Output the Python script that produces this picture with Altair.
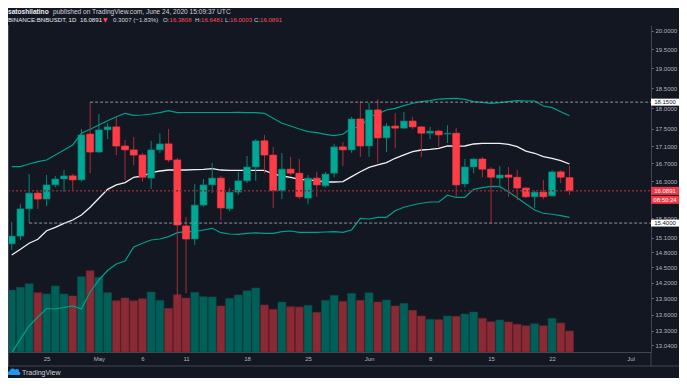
import altair as alt
import pandas as pd

# ---------------- data ----------------
dates = pd.date_range("2020-04-21", periods=65, freq="D").strftime("%Y-%m-%d").tolist()

opens = [14.97, 15.13, 15.70, 16.04, 15.91, 16.22, 16.35, 16.42, 16.33, 17.38,
         16.96, 17.48, 17.55, 17.10, 17.01, 16.89, 16.37, 17.01, 17.15, 16.78,
         15.34, 15.07, 15.78, 16.22, 16.37, 15.70, 16.06, 16.31, 16.62, 17.22,
         16.89, 16.09, 16.57, 16.48, 15.93, 16.37, 16.20, 16.48, 17.08, 17.01,
         17.74, 17.10, 17.96, 17.29, 17.57, 17.52, 17.69, 17.55, 17.40, 17.45,
         17.38, 17.40, 16.24, 16.62, 16.80, 16.57, 16.37, 16.44, 16.39, 16.15,
         15.96, 16.06, 15.98, 16.51, 16.3808]
highs = [15.42, 15.80, 16.46, 16.09, 16.44, 16.42, 16.55, 16.46, 17.50, 18.15,
         17.86, 17.64, 17.79, 17.24, 17.31, 16.94, 17.22, 17.40, 17.50, 16.82,
         15.53, 16.24, 16.35, 16.71, 16.42, 16.15, 16.51, 16.87, 17.26, 17.36,
         17.08, 16.94, 16.85, 16.80, 16.44, 16.51, 16.51, 17.15, 17.19, 17.79,
         18.18, 18.13, 18.22, 17.64, 17.88, 17.91, 17.79, 17.57, 17.55, 17.48,
         17.59, 17.52, 16.80, 16.82, 16.85, 16.62, 16.64, 16.62, 16.55, 16.17,
         16.09, 16.33, 16.55, 16.55, 16.6481]
lows = [14.85, 15.05, 15.40, 15.70, 15.76, 16.17, 16.06, 16.11, 16.29, 16.48,
        16.94, 17.26, 16.89, 16.33, 16.66, 16.29, 16.13, 16.94, 16.73, 13.91,
        14.00, 14.95, 15.74, 16.04, 15.46, 15.65, 16.00, 16.26, 16.31, 16.48,
        15.72, 15.91, 16.44, 15.91, 15.80, 15.96, 16.17, 16.39, 16.64, 16.94,
        16.85, 16.85, 16.71, 16.96, 17.05, 17.50, 17.50, 16.85, 17.26, 17.08,
        17.17, 15.96, 16.17, 16.48, 16.39, 15.40, 16.17, 15.96, 15.89, 15.93,
        15.72, 15.91, 15.96, 16.26, 16.0003]
closes = [15.13, 15.70, 16.04, 15.91, 16.22, 16.35, 16.42, 16.33, 17.36, 16.96,
          17.48, 17.55, 17.10, 17.01, 16.89, 16.39, 17.01, 17.15, 16.78, 15.36,
          15.07, 15.78, 16.22, 16.37, 15.72, 16.06, 16.31, 16.62, 17.22, 16.89,
          16.09, 16.57, 16.48, 15.96, 16.37, 16.22, 16.46, 17.08, 17.01, 17.74,
          17.10, 17.96, 17.29, 17.57, 17.52, 17.69, 17.55, 17.40, 17.45, 17.36,
          17.40, 16.22, 16.62, 16.80, 16.57, 16.39, 16.44, 16.39, 16.15, 15.96,
          16.06, 15.96, 16.51, 16.39, 16.0891]
volumes = [620, 647, 683, 593, 580, 660, 580, 560, 753, 813,
           747, 593, 513, 540, 513, 533, 600, 517, 437, 573,
           540, 597, 553, 550, 460, 537, 570, 613, 640, 470,
           427, 500, 453, 450, 467, 397, 517, 567, 507, 587,
           517, 593, 500, 520, 460, 487, 417, 360, 327, 323,
           360, 357, 380, 400, 337, 303, 320, 300, 277, 263,
           283, 263, 337, 290, 210]
bb_upper = [16.626, 16.626, 16.687, 16.739, 16.778, 16.893, 17.007, 17.124, 17.398, 17.493,
            17.595, 17.698, 17.795, 17.877, 17.829, 17.836, 17.860, 17.892, 17.940, 17.892,
            17.897, 17.897, 17.897, 17.897, 17.897, 17.897, 17.901, 17.892, 17.892, 17.877,
            17.756, 17.636, 17.571, 17.500, 17.436, 17.412, 17.374, 17.341, 17.374, 17.531,
            17.541, 17.795, 17.860, 17.957, 17.999, 18.063, 18.122, 18.161, 18.186, 18.227,
            18.239, 18.244, 18.220, 18.161, 18.146, 18.122, 18.137, 18.161, 18.186, 18.178,
            18.178, 18.056, 18.014, 17.916, 17.819]
bb_mid = [14.746, 14.861, 14.983, 15.064, 15.241, 15.312, 15.395, 15.464, 15.570, 15.734,
          15.927, 16.123, 16.218, 16.269, 16.388, 16.417, 16.491, 16.529, 16.551, 16.551,
          16.551, 16.558, 16.567, 16.581, 16.551, 16.545, 16.545, 16.545, 16.545, 16.545,
          16.462, 16.417, 16.388, 16.344, 16.328, 16.313, 16.284, 16.284, 16.291, 16.402,
          16.513, 16.612, 16.665, 16.717, 16.817, 16.893, 16.968, 17.007, 17.024, 17.047,
          17.105, 17.096, 17.100, 17.147, 17.163, 17.163, 17.163, 17.140, 17.084, 16.984,
          16.932, 16.854, 16.817, 16.762, 16.687]
bb_lower = [12.908, 13.154, 13.390, 13.555, 13.712, 13.703, 13.731, 13.759, 13.703, 14.023,
            14.254, 14.439, 14.567, 14.626, 14.908, 14.983, 15.050, 15.070, 15.118, 15.200,
            15.221, 15.221, 15.256, 15.291, 15.200, 15.173, 15.167, 15.187, 15.194, 15.187,
            15.187, 15.221, 15.235, 15.208, 15.208, 15.208, 15.214, 15.221, 15.208, 15.256,
            15.500, 15.485, 15.521, 15.521, 15.661, 15.734, 15.783, 15.820, 15.847, 15.847,
            15.993, 15.945, 15.949, 16.123, 16.158, 16.189, 16.180, 16.071, 15.940, 15.805,
            15.676, 15.606, 15.585, 15.555, 15.521]

price_ticks = [20.0, 19.5, 19.0, 18.5, 18.0, 17.5, 17.1, 16.7, 16.3, 15.5,
               15.1, 14.8, 14.5, 14.2, 13.9, 13.6, 13.3, 13.04]
date_ticks = [(4, 25), (5, 1), (5, 6), (5, 11), (5, 18), (5, 25), (6, 1),
              (6, 8), (6, 15), (6, 22), (7, 1)]
level_prices = [18.15, 15.40]
level_starts = ["2020-04-30", "2020-04-23"]
last_price = 16.0891
countdown = "08:50:24"

df = pd.DataFrame({"date": dates, "open": opens, "high": highs, "low": lows,
                   "close": closes, "volume": volumes, "bb_upper": bb_upper,
                   "bb_mid": bb_mid, "bb_lower": bb_lower})
levels = pd.DataFrame({"price": level_prices, "start": level_starts,
                       "label": [f"{p:.4f}" for p in level_prices]})
last_df = pd.DataFrame({"price": [last_price], "label": [f"{last_price:.4f}"],
                        "cd": [countdown]})

# ---------------- style ----------------
BG = "#131722"
UP, DOWN = "#00a896", "#fe3d47"
UP_W, DOWN_W = "#0a8577", "#a82e38"
VUP, VDN = "#005f58", "#8a2a34"
BAND = "#00a08c"
TXT = "#b2b5be"
FRAME = "#434651"
FONT = "Liberation Sans"
W, H = 643, 327

x_scale = alt.Scale(type="utc", domain=[
    alt.DateTime(year=2020, month=4, date=21, hours=3, minutes=32, utc=True),
    alt.DateTime(year=2020, month=7, date=2, hours=18, minutes=40, utc=True)])
x_axis = alt.Axis(values=[alt.DateTime(year=2020, month=m, date=d, utc=True) for m, d in date_ticks],
                  labelExpr="utcdate(datum.value) == 1 ? utcFormat(datum.value, '%b') : '' + utcdate(datum.value)",
                  title=None, grid=False, ticks=False, labelPadding=3, labelFontSize=6,
                  labelColor=TXT, labelFont=FONT, domainColor=FRAME, labelOverlap=False,
                  labelFlush=False)
y_scale = alt.Scale(type="log", domain=[12.925, 20.156], nice=False)
y_axis = alt.Axis(orient="right", values=price_ticks, format=".4f", title=None, grid=False,
                  tickSize=2, tickColor="#787b86", domainColor=FRAME, labelPadding=2,
                  labelFontSize=6, labelColor=TXT, labelFont=FONT, labelOverlap=False,
                  labelFlush=False)


def X(field):
    return alt.X(field, type="temporal", scale=x_scale, axis=x_axis)


def Y(field):
    return alt.Y(field, type="quantitative", scale=y_scale, axis=y_axis)


is_up = "datum.close >= datum.open"
base = alt.Chart(df)

vol = base.mark_bar(size=8, clip=True, strokeWidth=0.6).encode(
    x=X("date"),
    y=alt.Y("volume:Q", scale=alt.Scale(domain=[0, 3270], nice=False), axis=None),
    color=alt.condition(is_up, alt.value(VUP), alt.value(VDN)),
    stroke=alt.condition(is_up, alt.value("#0b4a46"), alt.value("#6a222b")),
)

upper = base.mark_line(clip=True, strokeWidth=1.2, color=BAND).encode(x=X("date"), y=Y("bb_upper"))
lower = base.mark_line(clip=True, strokeWidth=1.2, color=BAND).encode(x=X("date"), y=Y("bb_lower"))
mid = base.mark_line(clip=True, strokeWidth=1.3, color="#f2f2f2").encode(x=X("date"), y=Y("bb_mid"))

wicks = base.mark_rule(clip=True, strokeWidth=1).encode(
    x=X("date"), y=Y("low"), y2="high",
    color=alt.condition(is_up, alt.value(UP_W), alt.value(DOWN_W)))
bodies = base.mark_bar(size=7, clip=True, strokeWidth=0.6).encode(
    x=X("date"), y=Y("open"), y2="close",
    color=alt.condition(is_up, alt.value(UP), alt.value(DOWN)),
    stroke=alt.condition(is_up, alt.value("#067a6c"), alt.value(DOWN)))

level_lines = alt.Chart(levels).mark_rule(strokeDash=[3, 2], strokeWidth=1, color="#8f929b").encode(
    x=X("start"), x2=alt.value(W), y=Y("price"))
last_line = alt.Chart(last_df).mark_rule(strokeDash=[2, 2], strokeWidth=1.5, color="#7d2a33").encode(
    x=alt.value(0), x2=alt.value(W), y=Y("price"))

level_box = alt.Chart(levels).mark_tick(orient="horizontal", thickness=7, size=28, opacity=1,
                                        color="#ffffff").encode(x=alt.value(657), y=Y("price"))
level_txt = alt.Chart(levels).mark_text(fontSize=6, font=FONT, color="#131722", align="center",
                                        baseline="middle").encode(x=alt.value(657), y=Y("price"),
                                                                  text="label:N")
last_box = alt.Chart(last_df).mark_tick(orient="horizontal", thickness=8, size=28, opacity=1,
                                        color="#f23645").encode(x=alt.value(657), y=Y("price"))
cd_box = alt.Chart(last_df).mark_tick(orient="horizontal", thickness=8, size=28, opacity=1,
                                      color="#f23645", yOffset=9).encode(x=alt.value(657), y=Y("price"))
last_txt = alt.Chart(last_df).mark_text(fontSize=6, font=FONT, color="#ffffff", align="center",
                                        baseline="middle").encode(x=alt.value(657), y=Y("price"),
                                                                  text="label:N")
cd_txt = alt.Chart(last_df).mark_text(fontSize=6, font=FONT, color="#ffffff", align="center",
                                      baseline="middle", yOffset=9).encode(x=alt.value(657), y=Y("price"),
                                                                           text="cd:N")

price = alt.layer(upper, lower, mid, wicks, bodies, level_lines, last_line,
                  level_box, level_txt, last_box, cd_box, last_txt, cd_txt)

one = pd.DataFrame({"a": [0]})


def txt(s, x, y, color, size=6.1, weight="normal", font=FONT):
    return alt.Chart(one).mark_text(text=s, align="left", baseline="middle", fontSize=size,
                                    fontWeight=weight, color=color, font=font).encode(
        x=alt.value(x), y=alt.value(y))


def rule(**kw):
    return alt.Chart(one).mark_rule(color=FRAME, strokeWidth=1).encode(**kw)


RED = "#ff4a5a"
L1, L2 = -13, -5
header = [
    txt("satoshilatino", 0, L1, "#e8eaf0", size=6.6, weight="bold"),
    txt("published on TradingView.com, June 24, 2020 15:09:37 UTC", 45, L1, "#d1d4dc", size=6.6),
    txt("BINANCE:BNBUSDT, 1D", 0, L2, "#e8eaf0"),
    txt("16.0891", 72, L2, "#e8eaf0"),
    txt("▼", 95, L2, RED, size=5.8, font="DejaVu Sans"),
    txt("0.3007 (\u22121.83%)", 105, L2, "#d1d4dc"),
    txt("O:", 155, L2, "#d1d4dc"), txt("16.3808", 161.5, L2, RED),
    txt("H:", 187, L2, "#d1d4dc"), txt("16.6481", 193, L2, RED),
    txt("L:", 217, L2, "#d1d4dc"), txt("16.0003", 222, L2, RED),
    txt("C:", 246, L2, "#d1d4dc"), txt("16.0891", 252, L2, RED),
    txt("TradingView", 14, 348, "#d1d4dc", size=7),
]
cloud = alt.Chart(one).mark_point(
    shape="M-1,0.55 C-1.35,0.5 -1.3,-0.15 -0.8,-0.12 C-0.75,-0.65 -0.1,-0.85 0.2,-0.4 "
          "C0.5,-0.75 1.05,-0.5 0.9,-0.05 C1.3,0.05 1.25,0.6 0.9,0.55 Z",
    filled=True, size=121, color="#2196f3", opacity=1).encode(x=alt.value(6), y=alt.value(347))
frame = [
    rule(x=alt.value(0.5), y=alt.value(0), y2=alt.value(341)),
    rule(x=alt.value(0), x2=alt.value(671), y=alt.value(341)),
    rule(x=alt.value(W), y=alt.value(H), y2=alt.value(341)),
]

chart = alt.layer(vol, price, *frame, *header, cloud).resolve_scale(y="independent").properties(
    width=W, height=H, background=BG,
    padding={"left": 0, "top": 17, "right": 28, "bottom": 26},
    autosize=alt.AutoSizeParams(type="none"),
).configure_view(stroke=None)

chart.save("out.html", embed_options={"renderer": "svg", "actions": False})
